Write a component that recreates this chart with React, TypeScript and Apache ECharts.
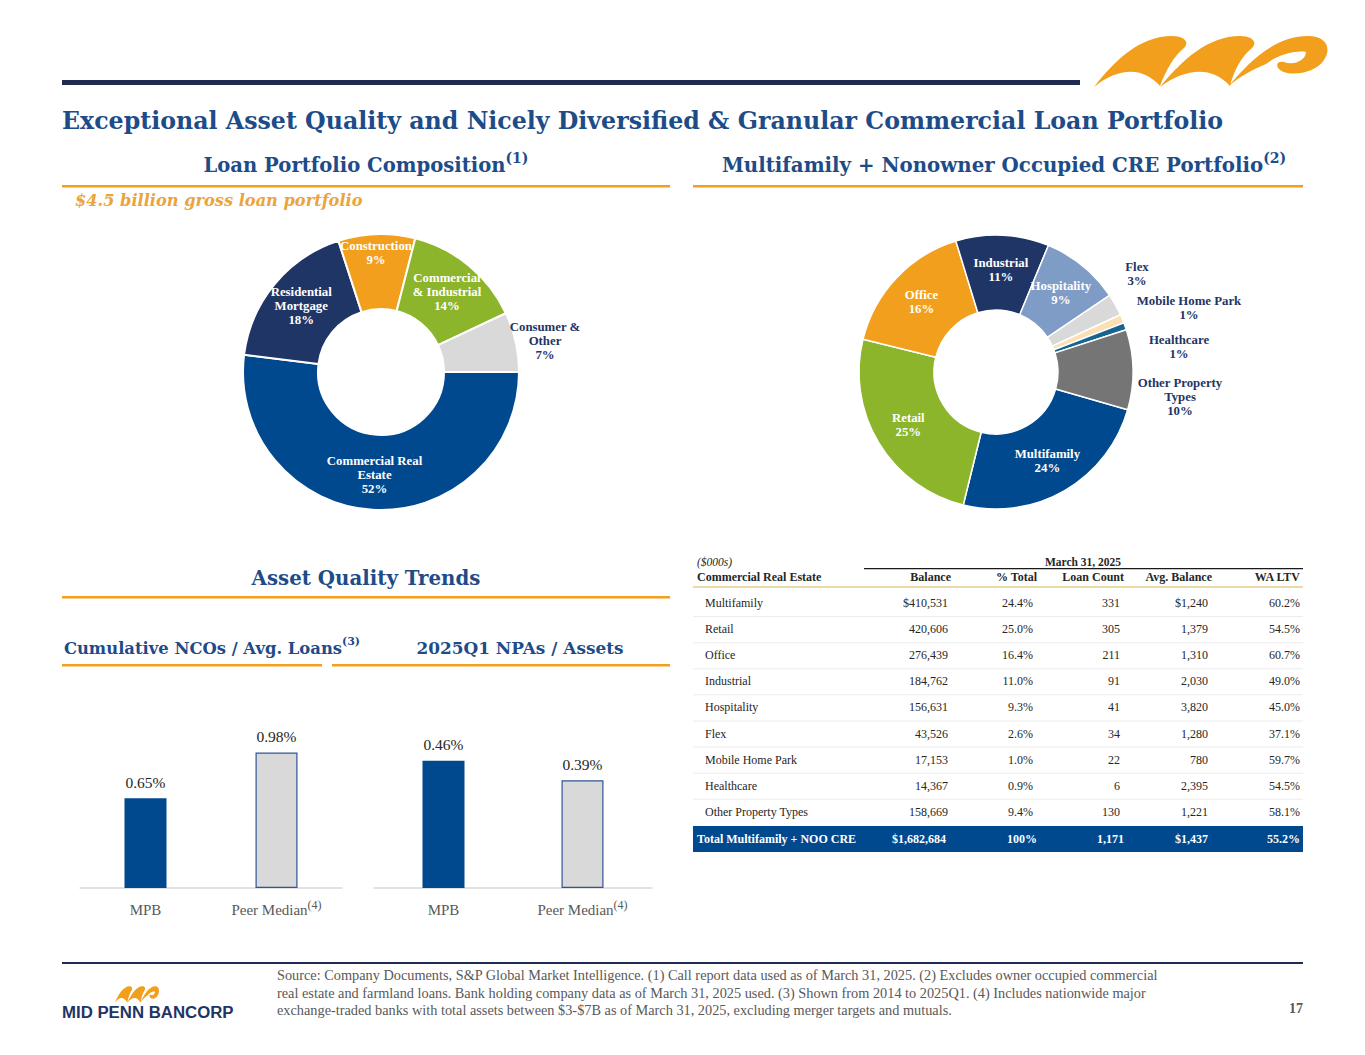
import React, { useEffect, useRef } from 'react';
import * as echarts from 'echarts';

// ---------- DATA ----------
const compCategories = ['Commercial Real\nEstate', 'Residential\nMortgage', 'Construction', 'Commercial\n& Industrial', 'Consumer &\nOther'];
const compValues = [52, 18, 9, 14, 7];

const creTypes = ['Multifamily', 'Retail', 'Office', 'Industrial', 'Hospitality', 'Flex', 'Mobile Home Park', 'Healthcare', 'Other Property Types'];
const creChartNames = ['Multifamily', 'Retail', 'Office', 'Industrial', 'Hospitality', 'Flex', 'Mobile Home Park', 'Healthcare', 'Other Property\nTypes'];
const creChartPct = ['24%', '25%', '16%', '11%', '9%', '3%', '1%', '1%', '10%'];
const creBalance = [410531, 420606, 276439, 184762, 156631, 43526, 17153, 14367, 158669];
const crePctTotal = [24.4, 25.0, 16.4, 11.0, 9.3, 2.6, 1.0, 0.9, 9.4];
const creLoanCount = [331, 305, 211, 91, 41, 34, 22, 6, 130];
const creAvgBalance = [1240, 1379, 1310, 2030, 3820, 1280, 780, 2395, 1221];
const creWaLtv = [60.2, 54.5, 60.7, 49.0, 45.0, 37.1, 59.7, 54.5, 58.1];
const totalRow = { label: 'Total Multifamily + NOO CRE', balance: 1682684, pct: 100, count: 1171, avg: 1437, ltv: 55.2 };
const tableHeaders = ['Balance', '% Total', 'Loan Count', 'Avg. Balance', 'WA LTV'];

const barCategories = ['MPB', 'Peer Median'];
const ncoValues = [0.65, 0.98];
const npaValues = [0.46, 0.39];

const footnotes = [
  'Source: Company Documents, S&P Global Market Intelligence. (1) Call report data used as of March 31, 2025. (2) Excludes owner occupied commercial',
  'real estate and farmland loans. Bank holding company data as of March 31, 2025 used. (3) Shown from 2014 to 2025Q1. (4) Includes nationwide major',
  'exchange-traded banks with total assets between $3-$7B as of March 31, 2025, excluding merger targets and mutuals.',
];

// ---------- STYLE ----------
const SERIF = '"Liberation Serif", "DejaVu Serif", serif';
const HEAD = '"DejaVu Serif", "Liberation Serif", serif';
const BLUE = '#00498f';
const NAVY = '#1f3566';
const ORANGE = '#f19f1c';
const GREEN = '#8cb52b';
const LGRAY = '#d9d9d9';
const TITLE = '#1d4c88';
const compColors = [BLUE, NAVY, ORANGE, GREEN, LGRAY];
const creColors = [BLUE, GREEN, ORANGE, NAVY, '#7f9cc6', LGRAY, '#fbe0b3', '#17648f', '#757575'];

const LOGO_D =
  'M14 67 C35 40 60 16 92 16 C104 16 110 22 104 28 C94 36 86 50 80 66 C62 46 38 48 14 67 Z ' +
  'M80 67 C102 40 128 16 160 16 C172 16 178 22 172 28 C162 36 154 50 150 66 C132 46 106 48 80 67 Z ' +
  'M148 67 C170 40 196 16 228 16 C246 16 252 28 244 40 C236 52 216 56 204 52 C194 48 196 40 204 42 C214 46 226 40 226 32 C214 30 196 36 186 44 C172 50 160 56 148 67 Z';
echarts.graphic.registerShape('mpLogo', echarts.graphic.extendPath(LOGO_D, {}));

const fmt = (n: number) => n.toLocaleString('en-US');

function txt(x: number, y: number, text: string, o: any = {}) {
  return {
    type: 'text',
    x,
    y,
    silent: true,
    style: {
      text,
      fill: o.fill || '#262626',
      fontFamily: o.fontFamily || SERIF,
      fontSize: o.fontSize || 12,
      fontWeight: o.fontWeight || 'normal',
      fontStyle: o.fontStyle || 'normal',
      align: o.align || 'left',
      verticalAlign: 'middle',
      rich: o.rich,
    },
  };
}
function rect(x: number, y: number, w: number, h: number, fill: string) {
  return { type: 'rect', silent: true, shape: { x, y, width: w, height: h }, style: { fill } };
}

function supTitle(x: number, y: number, main: string, sup: string, size: number, color: string) {
  return txt(x, y, `{m|${main}}{s|${sup}}`, {
    align: 'center',
    rich: {
      m: { fontSize: size, fontWeight: 'bold', fill: color, fontFamily: HEAD, lineHeight: size + 8 },
      s: { fontSize: Math.round(size * 0.7), fontWeight: 'bold', fill: color, fontFamily: HEAD, lineHeight: 13, verticalAlign: 'top' },
    },
  });
}

function buildGraphics() {
  const g: any[] = [];
  // header band
  g.push(rect(62, 80, 1018, 5, '#1f2b52'));
  g.push({ type: 'mpLogo', x: 1080, y: 20, silent: true, style: { fill: ORANGE } });
  g.push(txt(62, 121, 'Exceptional Asset Quality and Nicely Diversified & Granular Commercial Loan Portfolio', { fontSize: 23.7, fontWeight: 'bold', fill: TITLE, fontFamily: HEAD }));

  // section headings
  g.push(supTitle(366, 165, 'Loan Portfolio Composition', '(1)', 19.6, TITLE));
  g.push(rect(62, 185, 608, 2.5, ORANGE));
  g.push(supTitle(1004, 165, 'Multifamily + Nonowner Occupied CRE Portfolio', '(2)', 19.8, TITLE));
  g.push(rect(693, 185, 610, 2.5, ORANGE));
  g.push(txt(75, 200, '$4.5 billion gross loan portfolio', { fontSize: 16.2, fontWeight: 'bold', fontStyle: 'italic', fill: '#eba43c', fontFamily: HEAD }));

  g.push(txt(366, 578, 'Asset Quality Trends', { fontSize: 19.8, fontWeight: 'bold', fill: TITLE, align: 'center', fontFamily: HEAD }));
  g.push(rect(62, 596, 608, 2.5, ORANGE));
  g.push(supTitle(212, 648, 'Cumulative NCOs / Avg. Loans', '(3)', 16.4, TITLE));
  g.push(rect(62, 664, 260, 2.5, ORANGE));
  g.push(txt(520, 648, '2025Q1 NPAs / Assets', { fontSize: 16.9, fontWeight: 'bold', fill: TITLE, align: 'center', fontFamily: HEAD }));
  g.push(rect(332, 664, 338, 2.5, ORANGE));

  // table
  const colRight = [948, 1033, 1120, 1208, 1300];
  const headRight = [951, 1037, 1124, 1212, 1300];
  const totRight = [946, 1037, 1124, 1208, 1300];
  g.push(txt(697, 562, '($000s)', { fontSize: 11.5, fontStyle: 'italic' }));
  g.push(txt(1083, 562, 'March 31, 2025', { fontSize: 11.5, fontWeight: 'bold', align: 'center' }));
  g.push(rect(864, 568, 439, 1.2, '#1a1a1a'));
  g.push(txt(697, 577, 'Commercial Real Estate', { fontSize: 12, fontWeight: 'bold' }));
  tableHeaders.forEach((h, i) => g.push(txt(headRight[i], 577, h, { fontSize: 12, fontWeight: 'bold', align: 'right' })));
  g.push(rect(693, 586, 610, 2, '#ecd9a8'));
  const rowH = 26.1;
  creTypes.forEach((name, i) => {
    const y = 603 + i * rowH;
    if (i > 0) g.push(rect(693, y - rowH / 2, 610, 1, '#ececec'));
    const cells = [
      (i === 0 ? '$' : '') + fmt(creBalance[i]),
      crePctTotal[i].toFixed(1) + '%',
      fmt(creLoanCount[i]),
      (i === 0 ? '$' : '') + fmt(creAvgBalance[i]),
      creWaLtv[i].toFixed(1) + '%',
    ];
    g.push(txt(705, y, name, { fontSize: 12 }));
    cells.forEach((c, j) => g.push(txt(colRight[j], y, c, { fontSize: 12, align: 'right' })));
  });
  g.push(rect(693, 826, 610, 26, BLUE));
  const tcells = ['$' + fmt(totalRow.balance), totalRow.pct + '%', fmt(totalRow.count), '$' + fmt(totalRow.avg), totalRow.ltv.toFixed(1) + '%'];
  g.push(txt(697, 839, totalRow.label, { fontSize: 12, fontWeight: 'bold', fill: '#ffffff' }));
  tcells.forEach((c, j) => g.push(txt(totRight[j], 839, c, { fontSize: 12, fontWeight: 'bold', fill: '#ffffff', align: 'right' })));

  // footer
  g.push(rect(62, 962, 1241, 2, '#1f2b52'));
  g.push({ type: 'mpLogo', x: 112, y: 981, scaleX: 0.19, scaleY: 0.33, silent: true, style: { fill: ORANGE } });
  g.push(txt(62, 1012, 'MID PENN BANCORP', { fontSize: 16.8, fontWeight: 900, fill: NAVY, fontFamily: '"Liberation Sans", Arial, sans-serif' }));
  footnotes.forEach((l, i) => g.push(txt(277, 975 + i * 17.5, l, { fontSize: 14.3, fill: '#595959' })));
  g.push(txt(1303, 1008, '17', { fontSize: 14, fontWeight: 'bold', fill: '#595959', align: 'right' }));
  return g;
}

const compLabelPos: Record<number, [number, number]> = { 2: [376, 253], 4: [545, 341] };
const creLabelPos: Record<number, [number, number]> = { 5: [1137, 274], 6: [1189, 308], 7: [1179, 347], 8: [1180, 397] };

function barAxis(gridIndex: number) {
  return {
    type: 'category',
    gridIndex,
    data: barCategories,
    axisLine: { lineStyle: { color: '#d9d9d9', width: 1.5 } },
    axisTick: { show: false },
    axisLabel: {
      interval: 0,
      hideOverlap: false,
      margin: 11,
      color: '#595959',
      formatter: (v: string) => (v === 'Peer Median' ? `{m|${v}}{s|(4)}` : `{m|${v}}`),
      rich: {
        m: { fontSize: 15, fontFamily: SERIF, color: '#595959', lineHeight: 22 },
        s: { fontSize: 12, fontFamily: SERIF, color: '#595959', lineHeight: 12, verticalAlign: 'top' },
      },
    },
  };
}

function barSeries(idx: number, values: number[]) {
  return {
    type: 'bar',
    xAxisIndex: idx,
    yAxisIndex: idx,
    barWidth: 42,
    data: values.map((v, i) => ({
      value: v,
      itemStyle: i === 0 ? { color: BLUE } : { color: LGRAY, borderColor: '#2f5597', borderWidth: 1.2 },
    })),
    label: {
      show: true,
      position: 'top',
      distance: 8,
      formatter: (p: any) => p.value.toFixed(2) + '%',
      color: '#262626',
      fontSize: 15.5,
      fontFamily: SERIF,
    },
  };
}

export default function App() {
  const ref = useRef<HTMLDivElement>(null);
  useEffect(() => {
    if (!ref.current) return;
    const chart = echarts.init(ref.current, undefined, { renderer: 'svg' });
    const labelBase = { fontFamily: SERIF, fontWeight: 'bold', fontSize: 12.8, lineHeight: 14 };
    chart.setOption({
      animation: false,
      backgroundColor: '#ffffff',
      graphic: buildGraphics(),
      grid: [
        { left: 80, top: 736, width: 262, height: 152 },
        { left: 374, top: 736, width: 278, height: 152 },
      ],
      xAxis: [barAxis(0), barAxis(1)],
      yAxis: [
        { type: 'value', gridIndex: 0, min: 0, max: 1.1, show: false },
        { type: 'value', gridIndex: 1, min: 0, max: 0.55, show: false },
      ],
      series: [
        {
          type: 'pie',
          center: [381, 372],
          radius: [63, 138],
          startAngle: 0,
          clockwise: true,
          avoidLabelOverlap: false,
          itemStyle: { borderColor: '#ffffff', borderWidth: 2 },
          label: {
            show: true,
            position: 'inside',
            color: '#ffffff',
            ...labelBase,
            formatter: (p: any) => `${p.name}\n${p.value}%`,
          },
          labelLine: { show: false },
          labelLayout: (p: any) => {
            const pos = compLabelPos[p.dataIndex];
            return pos ? { x: pos[0], y: pos[1], align: 'center', verticalAlign: 'middle' } : {};
          },
          data: compCategories.map((name, i) => ({
            name,
            value: compValues[i],
            itemStyle: { color: compColors[i] },
            label: i === 4 ? { position: 'outside', color: NAVY } : undefined,
          })),
        },
        {
          type: 'pie',
          center: [996, 372],
          radius: [62, 137],
          startAngle: -16,
          clockwise: true,
          avoidLabelOverlap: false,
          itemStyle: { borderColor: '#ffffff', borderWidth: 1.5 },
          label: {
            show: true,
            position: 'inside',
            color: '#ffffff',
            ...labelBase,
            formatter: (p: any) => `${p.name}\n${creChartPct[p.dataIndex]}`,
          },
          labelLine: { show: false },
          labelLayout: (p: any) => {
            const pos = creLabelPos[p.dataIndex];
            return pos ? { x: pos[0], y: pos[1], align: 'center', verticalAlign: 'middle' } : {};
          },
          data: creChartNames.map((name, i) => ({
            name,
            value: creBalance[i],
            itemStyle: { color: creColors[i] },
            label: i >= 5 ? { position: 'outside', color: NAVY } : undefined,
          })),
        },
        barSeries(0, ncoValues),
        barSeries(1, npaValues),
      ],
    });
    return () => chart.dispose();
  }, []);
  return (
    <div
      ref={ref}
      style={{ position: 'fixed', left: 0, top: 0, width: 1365, height: 1055, background: '#ffffff' }}
    />
  );
}
